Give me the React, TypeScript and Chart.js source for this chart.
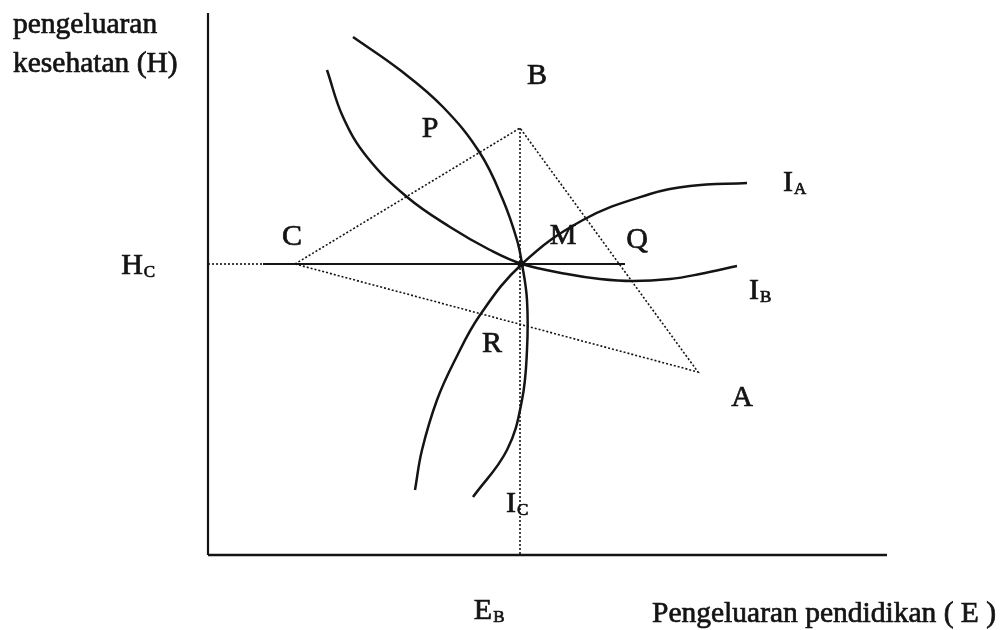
import React, { useEffect, useRef } from "react";
import { Chart, registerables } from "chart.js";

Chart.register(...registerables);

// Axis extents (data units)
const axisMaxE = 67.9;
const axisMaxH = 54.2;

// Indifference curves
const iaE = [20.7, 21.4, 22.9, 24.7, 27.2, 31.4, 37.5, 44.2, 48.2, 53.9];
const iaH = [6.5, 10.5, 15.5, 19.5, 24.0, 29.1, 33.5, 36.1, 36.9, 37.2];
const ibE = [11.9, 13.5, 15.9, 19.9, 24.2, 28.2, 31.4, 35.9, 39.2, 42.5, 46.2, 49.2, 52.9];
const ibH = [48.5, 43.8, 39.8, 35.8, 32.8, 30.5, 29.1, 28.1, 27.6, 27.4, 27.6, 28.1, 28.9];
const icE = [14.5, 19.2, 23.5, 27.2, 29.5, 30.9, 31.4, 31.9, 31.9, 31.4, 29.9, 26.5];
const icH = [51.8, 48.5, 44.8, 40.2, 35.5, 31.5, 29.1, 25.5, 20.5, 15.5, 10.5, 5.8];

// Triangle C - B - A
const triE = [8.7, 31.2, 49.0, 8.7];
const triH = [29.1, 42.7, 18.3, 29.1];

// H_C horizontal line (dotted part, solid part) and E_B vertical line
const hcDotE = [0, 5.5];
const hcDotH = [29.1, 29.1];
const hcE = [5.5, 41.7];
const hcH = [29.1, 29.1];
const ebE = [31.2, 31.2];
const ebH = [42.7, 0];

// Point M
const mE = [31.3];
const mH = [29.1];

// Plain labels
const labelText = ["B", "P", "C", "M", "Q", "R", "A"];
const labelE = [32.9, 22.2, 8.4, 35.5, 42.9, 28.4, 53.4];
const labelH = [47.9, 42.6, 31.8, 31.9, 31.5, 21.1, 15.7];

// Subscripted labels
const subMain = ["I", "I", "I", "E", "H"];
const subText = ["A", "B", "C", "B", "C"];
const subE = [58.0, 54.6, 30.3, 27.5, -7.6];
const subH = [37.2, 26.4, 5.1, -5.6, 28.9];

// Axis titles
const yTitle = ["pengeluaran", "kesehatan (H)"];
const xTitle = "Pengeluaran pendidikan ( E )";

const pts = (xs: number[], ys: number[]) => xs.map((x, i) => ({ x, y: ys[i] }));

const INK = "#141414";
const FONT = "'Liberation Serif', 'Times New Roman', serif";

const textPlugin = {
  id: "diagramText",
  afterDatasetsDraw(chart: any) {
    const { ctx, scales, chartArea } = chart;
    const sx = scales.x;
    const sy = scales.y;
    const put = (t: string, x: number, y: number) => {
      ctx.fillText(t, x, y);
      ctx.strokeText(t, x, y);
    };
    ctx.save();
    ctx.fillStyle = INK;
    ctx.strokeStyle = INK;
    ctx.lineWidth = 0.7;
    ctx.textBaseline = "middle";
    ctx.textAlign = "center";
    ctx.font = `30px ${FONT}`;
    labelText.forEach((t, i) => {
      put(t, sx.getPixelForValue(labelE[i]), sy.getPixelForValue(labelH[i]));
    });
    subMain.forEach((t, i) => {
      const px = sx.getPixelForValue(subE[i]);
      const py = sy.getPixelForValue(subH[i]);
      ctx.font = `30px ${FONT}`;
      ctx.textAlign = "center";
      const w = ctx.measureText(t).width;
      put(t, px, py);
      ctx.font = `17px ${FONT}`;
      ctx.textAlign = "left";
      put(subText[i], px + w / 2 + 1, py + 7);
    });
    ctx.textAlign = "left";
    ctx.textBaseline = "alphabetic";
    ctx.font = `29.5px ${FONT}`;
    put(yTitle[0], chartArea.left - 195, chartArea.top + 20);
    put(yTitle[1], chartArea.left - 195, chartArea.top + 59);
    put(xTitle, chartArea.left + 444, chartArea.bottom + 67);
    ctx.restore();
  },
};

export default function App() {
  const ref = useRef<HTMLCanvasElement | null>(null);
  useEffect(() => {
    if (!ref.current) return;
    const curve = (xs: number[], ys: number[]) => ({
      data: pts(xs, ys),
      showLine: true,
      borderColor: INK,
      borderWidth: 2.5,
      pointRadius: 0,
      tension: 0.4,
      clip: false as any,
    });
    const straight = (xs: number[], ys: number[], dash: number[], width: number) => ({
      data: pts(xs, ys),
      showLine: true,
      borderColor: INK,
      borderWidth: width,
      borderDash: dash,
      pointRadius: 0,
      tension: 0,
      clip: false as any,
    });
    const chart = new Chart(ref.current, {
      type: "scatter",
      data: {
        datasets: [
          straight([0, 0], [0, axisMaxH], [], 2.2),
          straight([0, axisMaxE], [0, 0], [], 2.5),
          straight(triE, triH, [2, 2], 1.6),
          straight(hcDotE, hcDotH, [2, 2], 1.6),
          straight(hcE, hcH, [], 2),
          straight(ebE, ebH, [2, 2], 1.6),
          curve(iaE, iaH),
          curve(ibE, ibH),
          curve(icE, icH),
          {
            data: pts(mE, mH),
            pointRadius: 3.5,
            pointBackgroundColor: INK,
            pointBorderWidth: 0,
            showLine: false,
            clip: false as any,
          },
        ] as any,
      },
      options: {
        animation: false,
        responsive: false,
        layout: { padding: { left: 208, right: 117, top: 13, bottom: 75 } },
        plugins: { legend: { display: false }, tooltip: { enabled: false } },
        scales: {
          x: { type: "linear", display: false, min: 0, max: 68 },
          y: { type: "linear", display: false, min: 0, max: 54.2 },
        },
      },
      plugins: [textPlugin],
    });
    return () => chart.destroy();
  }, []);
  return (
    <div style={{ position: "absolute", left: 0, top: 0, width: 1005, height: 630, background: "#fff" }}>
      <canvas ref={ref} width={1005} height={630} style={{ display: "block" }} />
    </div>
  );
}
